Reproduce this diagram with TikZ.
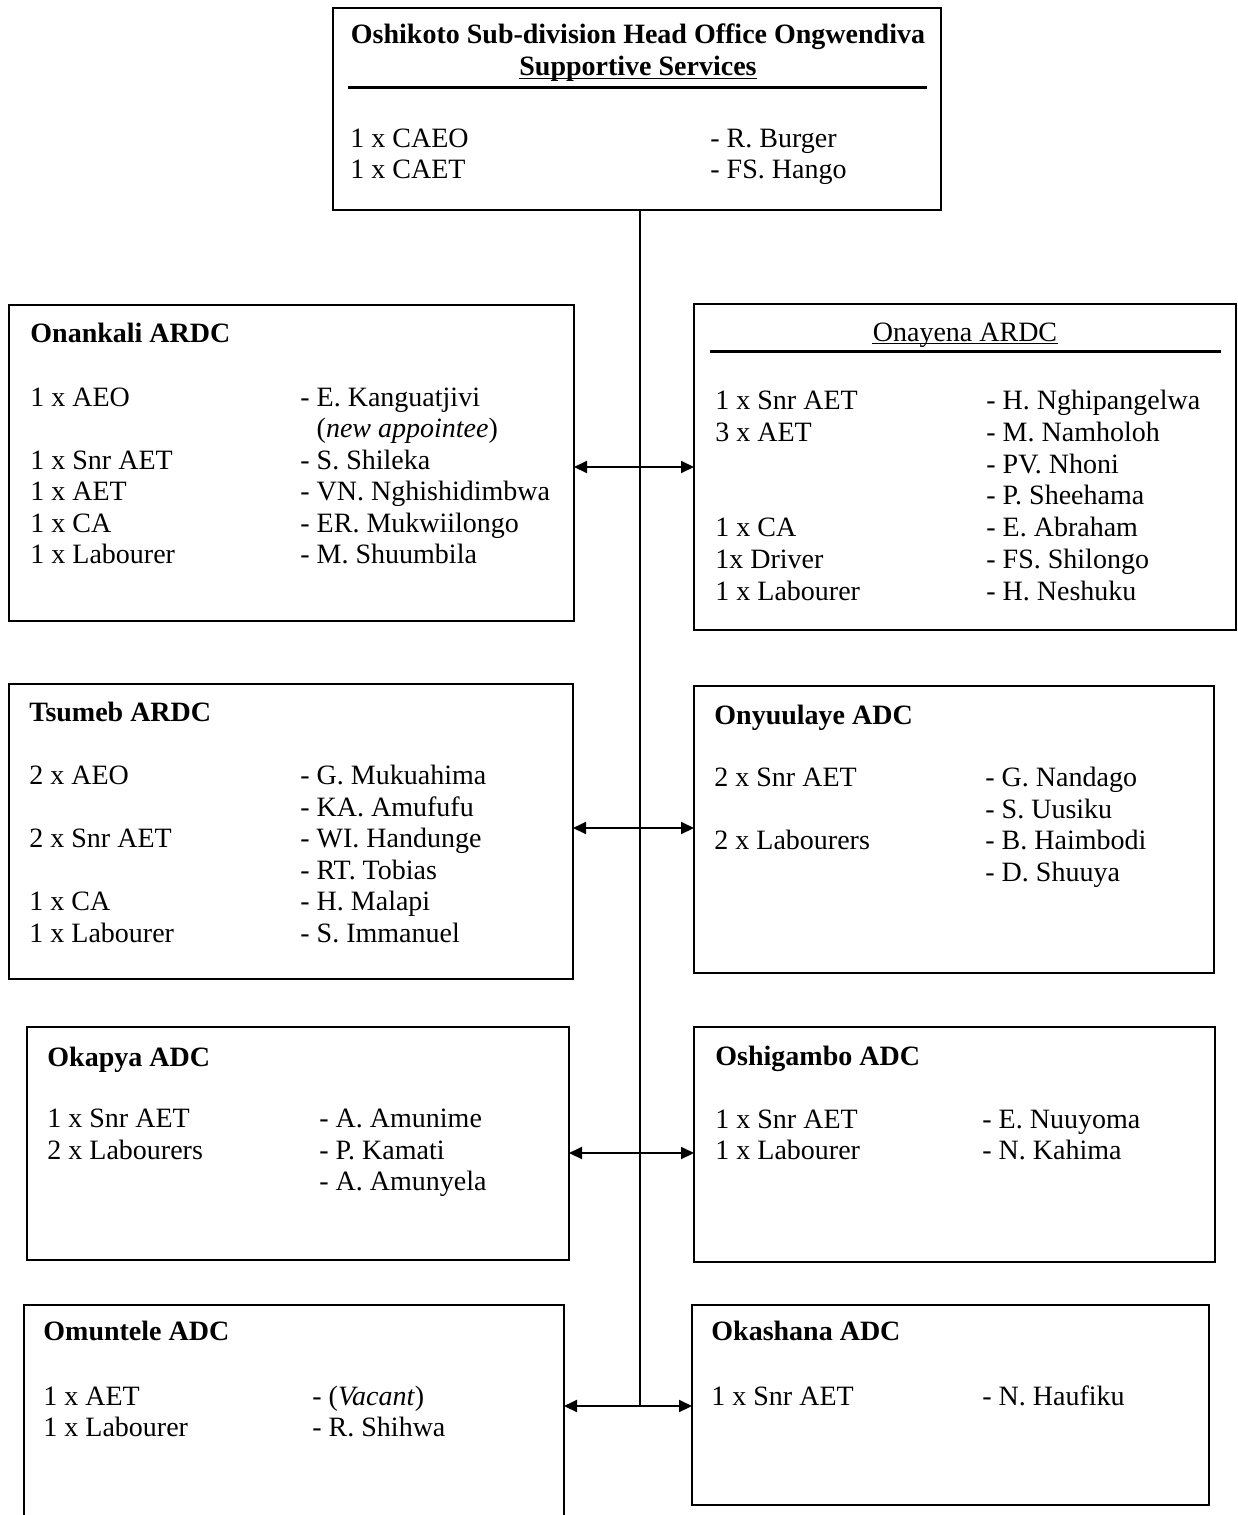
\documentclass[tikz,border=0pt]{standalone}
\usepackage{fontspec}
\setmainfont{Liberation Serif}
\usetikzlibrary{arrows.meta,fit}
\newcommand\colrows[4]{\foreach \s [count=\i from 0] in {#4} {\node[txt] at (#1,{#2+#3*\i}) {\s};}}
\begin{document}
\begin{tikzpicture}[x=0.5pt,y=-0.5pt,
  box/.style={draw, line width=0.8pt, inner sep=0pt, outer sep=0pt},
  txt/.style={anchor=base west, inner sep=0pt, font=\fontsize{14}{16}\selectfont},
  ttl/.style={txt, font=\fontsize{14}{16}\selectfont\bfseries},
  headrule/.style={line width=1.5pt},
  uline/.style={line width=0.5pt},
  link/.style={line width=1pt, {Triangle[length=6.5pt,width=6pt]}-{Triangle[length=6.5pt,width=6pt]}},
  trunk/.style={line width=1pt}]
\useasboundingbox (0,0) rectangle (1237,1515);

% ---------- boxes ----------
\node[box, fit={(333,8) (941,210)}] (top) {};
\node[box, fit={(9,305) (574,621)}] (onankali) {};
\node[box, fit={(694,304) (1236,630)}] (onayena) {};
\node[box, fit={(9,684) (573,979)}] (tsumeb) {};
\node[box, fit={(694,686) (1214,973)}] (onyuulaye) {};
\node[box, fit={(27,1027) (569,1260)}] (okapya) {};
\node[box, fit={(694,1027) (1215,1262)}] (oshigambo) {};
\node[box, fit={(24,1305) (564,1540)}] (omuntele) {};
\node[box, fit={(692,1305) (1209,1505)}] (okashana) {};

% ---------- connectors ----------
\coordinate (y1) at (640,467);
\coordinate (y2) at (640,828);
\coordinate (y3) at (640,1153);
\coordinate (y4) at (640,1406);
\draw[trunk] (top.south -| y4) -- (y4);
\draw[link] (onankali.east |- y1) -- (onayena.west |- y1);
\draw[link] (tsumeb.east |- y2) -- (onyuulaye.west |- y2);
\draw[link] (okapya.east |- y3) -- (oshigambo.west |- y3);
\draw[link] (omuntele.east |- y4) -- (okashana.west |- y4);

% ---------- head office ----------
\node[ttl, anchor=base] (h1) at (638,43) {Oshikoto Sub-division Head Office Ongwendiva};
\node[ttl, anchor=base] (h2) at (638,75) {Supportive Services};
\draw[uline] ([yshift=-1.5pt]h2.base west) -- ([yshift=-1.5pt]h2.base east);
\draw[headrule] (348,87) -- (927,87);
\colrows{350}{147}{31.7}{1 x CAEO, 1 x CAET}
\colrows{710}{147}{31.7}{- R. Burger, - FS. Hango}

% ---------- Onankali ----------
\node[ttl] (onankalit) at (30,342) {Onankali ARDC};
\colrows{30}{406.5}{31.4}{1 x AEO, {}, 1 x Snr AET, 1 x AET, 1 x CA, 1 x Labourer}
\colrows{300}{406.5}{31.4}{- E. Kanguatjivi, {\phantom{-} (\textit{new appointee})}, - S. Shileka, - VN. Nghishidimbwa, - ER. Mukwiilongo, - M. Shuumbila}

% ---------- Onayena ----------
\node[txt, anchor=base] (onayenat) at (965,341) {Onayena ARDC};
\draw[uline] ([yshift=-1.2pt]onayenat.base west) -- ([yshift=-1.2pt]onayenat.base east);
\draw[headrule] (710,351) -- (1221,351);
\colrows{715}{409.5}{31.8}{1 x Snr AET, 3 x AET, {}, {}, 1 x CA, 1x Driver, 1 x Labourer}
\colrows{986}{409.5}{31.8}{- H. Nghipangelwa, - M. Namholoh, - PV. Nhoni, - P. Sheehama, - E. Abraham, - FS. Shilongo, - H. Neshuku}

% ---------- Tsumeb ----------
\node[ttl] (tsumebt) at (29,721.5) {Tsumeb ARDC};
\colrows{29}{784.5}{31.6}{2 x AEO, {}, 2 x Snr AET, {}, 1 x CA, 1 x Labourer}
\colrows{300}{784.5}{31.6}{- G. Mukuahima, - KA. Amufufu, - WI. Handunge, - RT. Tobias, - H. Malapi, - S. Immanuel}

% ---------- Onyuulaye ----------
\node[ttl] (onyuulayet) at (714,724.5) {Onyuulaye ADC};
\colrows{714}{786.5}{31.6}{2 x Snr AET, {}, 2 x Labourers}
\colrows{985}{786.5}{31.6}{- G. Nandago, - S. Uusiku, - B. Haimbodi, - D. Shuuya}

% ---------- Okapya ----------
\node[ttl] (okapyat) at (47,1066) {Okapya ADC};
\colrows{47}{1127.5}{31.6}{1 x Snr AET, 2 x Labourers}
\colrows{319}{1127.5}{31.6}{- A. Amunime, - P. Kamati, - A. Amunyela}

% ---------- Oshigambo ----------
\node[ttl] (oshigambot) at (715,1065) {Oshigambo ADC};
\colrows{715}{1128}{31.6}{1 x Snr AET, 1 x Labourer}
\colrows{982}{1128}{31.6}{- E. Nuuyoma, - N. Kahima}

% ---------- Omuntele ----------
\node[ttl] (omuntelet) at (43,1340) {Omuntele ADC};
\colrows{43}{1405}{31.7}{1 x AET, 1 x Labourer}
\colrows{312}{1405}{31.7}{{- (\textit{Vacant})}, - R. Shihwa}

% ---------- Okashana ----------
\node[ttl] (okashanat) at (711,1340) {Okashana ADC};
\colrows{711}{1405}{31.7}{1 x Snr AET}
\colrows{982}{1405}{31.7}{- N. Haufiku}
\end{tikzpicture}
\end{document}
